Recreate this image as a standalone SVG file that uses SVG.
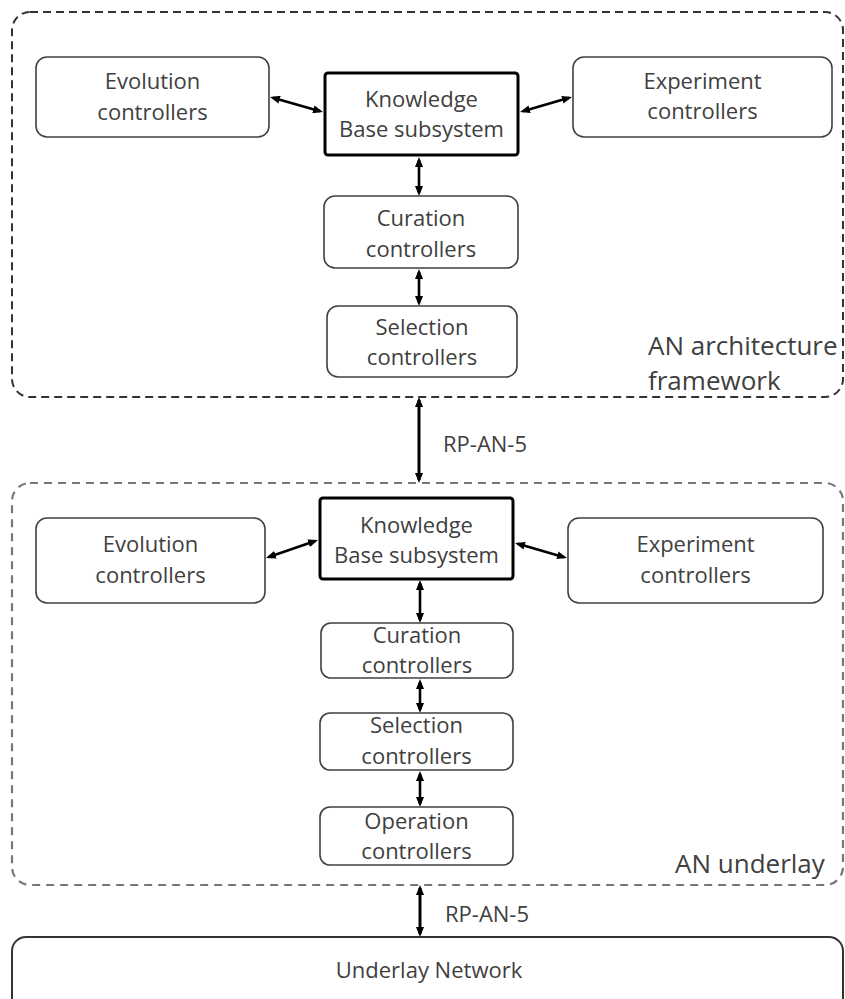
<svg xmlns="http://www.w3.org/2000/svg" width="845" height="999" viewBox="0 0 845 999">
<style>
text{font-family:"Open Sans","Liberation Sans",sans-serif;fill:#404040;}
.n{font-size:22px;text-anchor:middle;}
.lbl{font-size:26px;}
.rp{font-size:22px;}
.box{fill:#fff;stroke:#404040;stroke-width:1.6;}
.kb{fill:#fff;stroke:#000;stroke-width:3;}
.c1{fill:none;stroke:#333;stroke-width:2;stroke-dasharray:8 5;}
.c2{fill:none;stroke:#777;stroke-width:2.2;stroke-dasharray:8 6;}
.ar{stroke:#000;stroke-width:2.6;fill:none;marker-start:url(#ah);marker-end:url(#ah);}
</style>
<defs>
<marker id="ah" viewBox="0 0 10 8" refX="7" refY="4" markerWidth="10" markerHeight="8" markerUnits="userSpaceOnUse" orient="auto-start-reverse"><path d="M0,0 L10,4 L0,8 z" fill="#000"/></marker>
</defs>
<rect width="845" height="999" fill="#fff"/>

<g id="framework">
<rect class="c1" x="12" y="12" width="831" height="385" rx="18"/>
<text class="lbl" x="648" y="355">AN architecture</text>
<text class="lbl" x="648" y="390">framework</text>
</g>
<g id="underlay">
<rect class="c2" x="12" y="483" width="831" height="402" rx="18"/>
<text class="lbl" x="675" y="873">AN underlay</text>
</g>

<g id="connectors">
<line class="ar" x1="272.9" y1="97.8" x2="320.1" y2="111.2"/>
<line class="ar" x1="522.9" y1="111.2" x2="569.1" y2="97.8"/>
<line class="ar" x1="419" y1="160" x2="419" y2="193"/>
<line class="ar" x1="419" y1="272" x2="419" y2="303"/>
<line class="ar" x1="419" y1="400" x2="419" y2="480" style="stroke-width:3"/>
<line class="ar" x1="268.8" y1="557" x2="315.2" y2="541"/>
<line class="ar" x1="517.9" y1="543.8" x2="564.1" y2="557.2"/>
<line class="ar" x1="420" y1="583" x2="420" y2="620"/>
<line class="ar" x1="420" y1="682" x2="420" y2="710"/>
<line class="ar" x1="420" y1="774" x2="420" y2="804"/>
<line class="ar" x1="420" y1="888" x2="420" y2="934" style="stroke-width:3"/>
<text class="rp" x="443" y="452">RP-AN-5</text>
<text class="rp" x="445" y="922">RP-AN-5</text>
</g>

<g id="evo1"><rect class="box" x="36" y="57" width="233" height="80" rx="11"/>
<text class="n" x="152.5" y="89">Evolution</text><text class="n" x="152.5" y="120">controllers</text></g>
<g id="kb1"><rect class="kb" x="325" y="73" width="193" height="82" rx="3"/>
<text class="n" x="421.5" y="107">Knowledge</text><text class="n" x="421.5" y="137">Base subsystem</text></g>
<g id="exp1"><rect class="box" x="573" y="57" width="259" height="80" rx="11"/>
<text class="n" x="702.5" y="89">Experiment</text><text class="n" x="702.5" y="119">controllers</text></g>
<g id="cur1"><rect class="box" x="324" y="196" width="194" height="72" rx="11"/>
<text class="n" x="421" y="226">Curation</text><text class="n" x="421" y="257">controllers</text></g>
<g id="sel1"><rect class="box" x="327" y="306" width="190" height="71" rx="11"/>
<text class="n" x="422" y="335">Selection</text><text class="n" x="422" y="365">controllers</text></g>

<g id="evo2"><rect class="box" x="36" y="518" width="229" height="85" rx="11"/>
<text class="n" x="150.5" y="552">Evolution</text><text class="n" x="150.5" y="583">controllers</text></g>
<g id="kb2"><rect class="kb" x="320" y="498" width="193" height="81" rx="3"/>
<text class="n" x="416.5" y="533">Knowledge</text><text class="n" x="416.5" y="563">Base subsystem</text></g>
<g id="exp2"><rect class="box" x="568" y="518" width="255" height="85" rx="11"/>
<text class="n" x="695.5" y="552">Experiment</text><text class="n" x="695.5" y="583">controllers</text></g>
<g id="cur2"><rect class="box" x="321" y="623" width="192" height="55" rx="10"/>
<text class="n" x="417" y="643">Curation</text><text class="n" x="417" y="673">controllers</text></g>
<g id="sel2"><rect class="box" x="320" y="713" width="193" height="57" rx="10"/>
<text class="n" x="416.5" y="733">Selection</text><text class="n" x="416.5" y="764">controllers</text></g>
<g id="op2"><rect class="box" x="320" y="807" width="193" height="58" rx="10"/>
<text class="n" x="416.5" y="829">Operation</text><text class="n" x="416.5" y="859">controllers</text></g>

<g id="underlay-network"><rect class="box" x="12" y="937" width="831" height="90" rx="14" style="stroke:#333;stroke-width:2"/>
<text class="n" x="429" y="978">Underlay Network</text></g>
</svg>
